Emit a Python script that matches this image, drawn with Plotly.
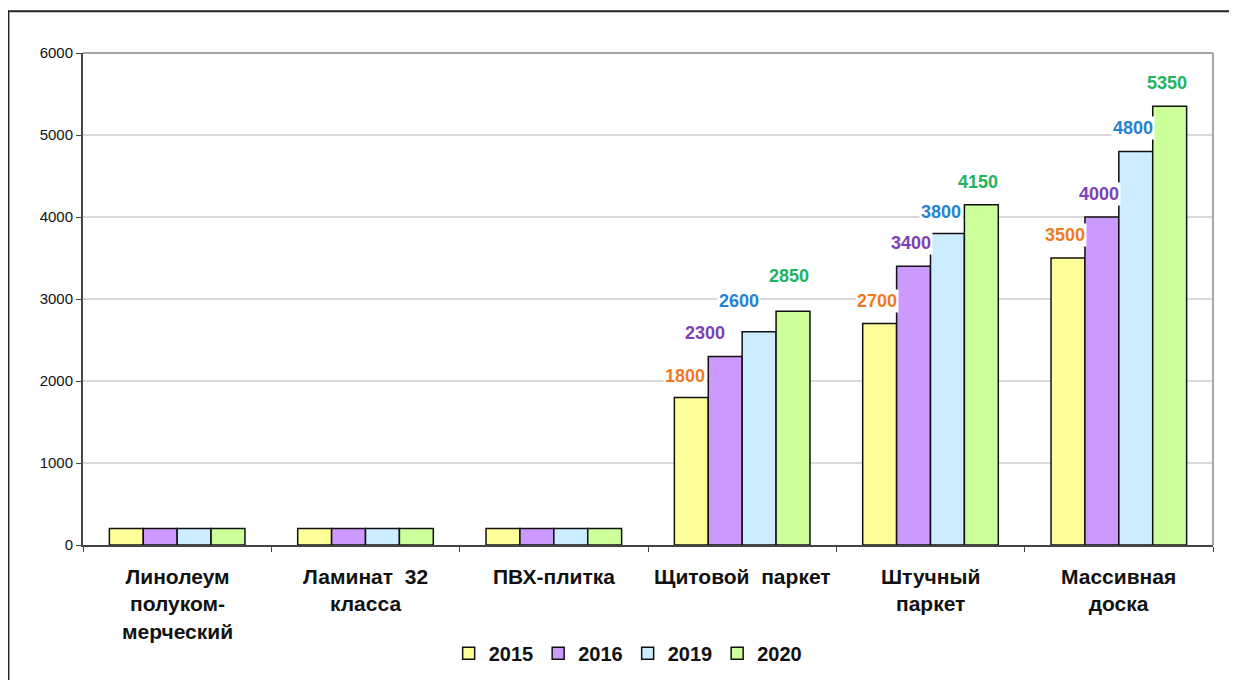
import plotly.graph_objects as go

categories = ["Линолеум<br>полуком-<br>мерческий", "Ламинат  32<br>класса", "ПВХ-плитка",
              "Щитовой  паркет", "Штучный<br>паркет", "Массивная<br>доска"]
years = ["2015", "2016", "2019", "2020"]
v2015 = [200, 200, 200, 1800, 2700, 3500]
v2016 = [200, 200, 200, 2300, 3400, 4000]
v2019 = [200, 200, 200, 2600, 3800, 4800]
v2020 = [200, 200, 200, 2850, 4150, 5350]
# first three groups carry no value labels
labelled = [False, False, False, True, True, True]

series = [v2015, v2016, v2019, v2020]
fills = ["#FFFF99", "#CC99FF", "#CCECFF", "#CCFF99"]
label_colors = ["#F07A22", "#7E3FB5", "#2682D4", "#22B35E"]
FONT = "Liberation Sans, Arial, sans-serif"

# manual nudges (xshift, yshift) for a few labels, keyed by (series, category)
nudge = {(1, 3): (-20, 0), (2, 3): (-20, 8), (3, 3): (-4, 12),
         (0, 3): (-6, -2), (2, 4): (-6, -2)}

BARGAP = 0.28
bar_w = (1 - BARGAP) / len(series)

fig = go.Figure()
xs = list(range(len(categories)))
for i, (yr, vals) in enumerate(zip(years, series)):
    fig.add_trace(go.Bar(
        x=xs, y=vals, name=yr,
        marker=dict(color=fills[i], line=dict(color="#111111", width=1.5)),
    ))
    for c, v in enumerate(vals):
        if not labelled[c]:
            continue
        dx, dy = nudge.get((i, c), (-3, 0))
        xpos = c - (1 - BARGAP) / 2 + bar_w * (i + 0.5)
        fig.add_annotation(
            x=xpos, y=v, xref="x", yref="y", text=f"<b>{v}</b>",
            showarrow=False, yanchor="bottom", xshift=dx, yshift=11 + dy,
            bgcolor="white", borderpad=1,
            font=dict(family=FONT, size=18, color=label_colors[i]),
        )

for c, cat in enumerate(categories):
    fig.add_annotation(
        x=c, y=0, xref="x", yref="paper", text=f"<b>{cat}</b>",
        showarrow=False, yanchor="top", yshift=-18,
        font=dict(family=FONT, size=21, color="#111111"),
    )

# outer frame and grey top/right plot border
fig.add_shape(type="rect", xref="paper", yref="paper",
              x0=-0.066, x1=1.3, y0=-0.5, y1=1.085,
              line=dict(color="#222222", width=2), layer="below")
fig.add_shape(type="line", xref="paper", yref="paper", x0=0, x1=1, y0=1, y1=1,
              line=dict(color="#A6A6A6", width=2))
fig.add_shape(type="line", xref="paper", yref="paper", x0=1, x1=1, y0=0, y1=1,
              line=dict(color="#A6A6A6", width=2))

fig.update_layout(
    width=1237, height=680,
    margin=dict(l=75, r=32, t=45, b=143),
    paper_bgcolor="white", plot_bgcolor="white",
    barmode="group", bargap=BARGAP, bargroupgap=0,
    font=dict(family=FONT, color="#111111"),
    showlegend=True,
    legend=dict(orientation="h", x=0.482, xanchor="center", y=-0.22, yanchor="middle",
                font=dict(family=FONT, size=20, color="#111111", weight="bold"),
                itemwidth=30, tracegroupgap=0),
    xaxis=dict(range=[-0.5, 5.5], tickvals=[k - 0.5 for k in range(7)],
               showticklabels=False, ticks="outside", ticklen=5, tickcolor="#444444",
               showline=True, linecolor="#444444", linewidth=2, showgrid=False,
               zeroline=False),
    yaxis=dict(range=[0, 6000], dtick=1000, ticks="outside", ticklen=5,
               tickcolor="#444444", showline=True, linecolor="#444444", linewidth=2,
               gridcolor="#D9D9D9", gridwidth=2, zeroline=False,
               tickfont=dict(family=FONT, size=15, color="#111111")),
)

fig.write_html("out.html")
